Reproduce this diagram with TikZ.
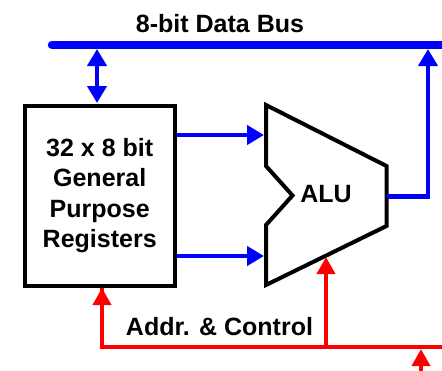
\documentclass[tikz,border=0pt]{standalone}
\usepackage{fontspec}
\setmainfont{Liberation Sans}
\usetikzlibrary{arrows.meta}
\begin{document}
\begin{tikzpicture}[x=1pt,y=-1pt,
  lbl/.style={font=\fontsize{25}{30.5}\selectfont\bfseries, inner sep=0pt},
  databus/.style={draw=blue, line width=8.5pt, line cap=round},
  dataline/.style={draw=blue, line width=4.5pt},
  ctrlline/.style={draw=red, line width=4pt},
  btip/.style={-{Triangle[length=17pt,width=19pt]}},
  btwo/.style={{Triangle[length=17pt,width=19pt]}-{Triangle[length=17pt,width=19pt]}},
  rtip/.style={-{Triangle[length=17pt,width=18pt]}},
  unit/.style={draw=black, line width=4pt, line join=miter}]
  \useasboundingbox (0,0) rectangle (442,370);
  \fill[white] (0,0) rectangle (442,370);

  % register file
  \node[unit, lbl, align=center, minimum width=150pt, minimum height=180pt]
    (regs) at (99.7,195.5) {32 x 8 bit\\General\\Purpose\\Registers};

  % ALU outline with the notch on the input side
  \coordinate (aluTL) at (266,105);
  \coordinate (aluTR) at (386.5,166);
  \coordinate (aluBR) at (386.5,226);
  \coordinate (aluBL) at (266,285);
  \coordinate (notchT) at (266,166);
  \coordinate (notchM) at (292.5,195.5);
  \coordinate (notchB) at (266,225);
  \draw[unit] (aluTL) -- (aluTR) -- (aluBR) -- (aluBL) -- (notchB)
    -- (notchM) -- (notchT) -- cycle;
  \node[lbl, anchor=base] (alu) at (326,202.5) {ALU};

  % data bus
  \coordinate (busL) at (52,45);
  \coordinate (busR) at (446,45);
  \draw[databus] (busL) -- (busR);
  \node[lbl, anchor=base] (buslbl) at (220,32) {8-bit Data Bus};

  \coordinate (busLink) at (97,49);
  \coordinate (regTop) at (97,103);
  \draw[dataline, btwo] (busLink) -- (regTop);

  % register outputs into the ALU
  \coordinate (inA) at (264,135);
  \coordinate (inB) at (264,256);
  \draw[dataline, btip] (regs.east |- inA) -- (inA);
  \draw[dataline, btip] (regs.east |- inB) -- (inB);

  % ALU result back onto the bus
  \coordinate (aluOut) at (386.5,196.5);
  \coordinate (resCorner) at (428,196.5);
  \coordinate (resBus) at (428,49);
  \draw[dataline, btip, line join=miter] (aluOut) -- (resCorner) -- (resBus);

  % address and control lines
  \coordinate (ctrlL) at (102,347);
  \coordinate (ctrlR) at (446,347);
  \coordinate (ctrlMid) at (326,347);
  \coordinate (regBot) at (102,288);
  \coordinate (aluBot) at (326,257);
  \coordinate (ctrlIn) at (421,375);
  \coordinate (ctrlInEnd) at (421,349);
  \draw[ctrlline, line join=miter] (regBot) -- (ctrlL) -- (ctrlR);
  \draw[ctrlline, rtip] (ctrlL) -- (regBot);
  \draw[ctrlline, rtip] (ctrlMid) -- (aluBot);
  \draw[ctrlline, rtip] (ctrlIn) -- (ctrlInEnd);
  \node[lbl, anchor=base] (ctrllbl) at (219.5,335) {Addr. \& Control};
\end{tikzpicture}
\end{document}
